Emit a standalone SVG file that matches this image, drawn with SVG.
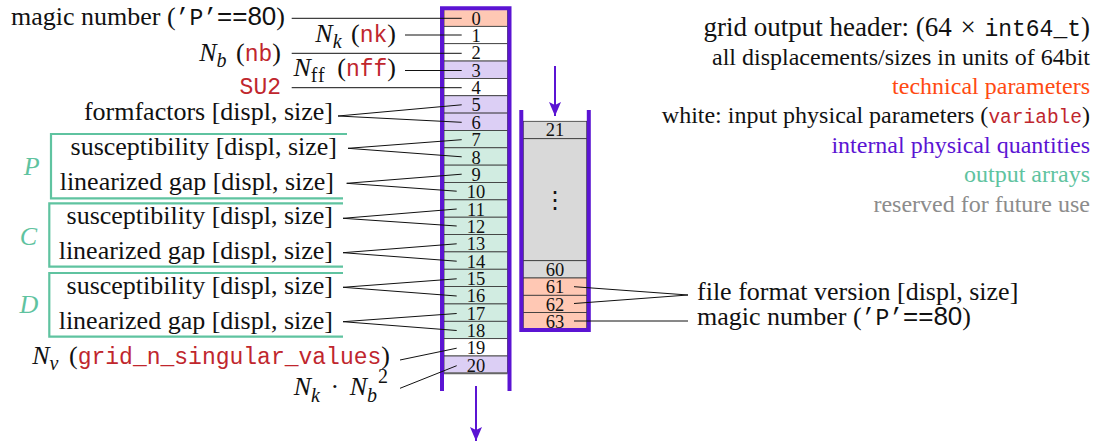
<svg xmlns="http://www.w3.org/2000/svg" width="1100" height="444" viewBox="0 0 1100 444">
<style>
text{font-family:"Liberation Serif",serif;fill:#111}
.lbl{font-size:26px}
.end{text-anchor:end}
.it{font-style:italic}
.sub{font-size:20px}
.mono{font-family:"Liberation Mono",monospace;font-size:23px;fill:#c0262d}
.tt{font-family:"Liberation Mono",monospace;font-size:23px;fill:#111}
.sans{font-family:"Liberation Sans",sans-serif}
.num{font-size:18.5px;text-anchor:middle}
.leg{font-size:24px;text-anchor:end}
.cell{stroke:#333;stroke-width:0.8}
.fo{fill:#ffc8b4}.fw{fill:#fff}.fp{fill:#dccff5}.fg{fill:#d1ece1}.fgr{fill:#d9d9d9}
.con{stroke:#111;stroke-width:1;fill:none}
.box{stroke:#5fc3a0;stroke-width:2.2;fill:none}
.wall{stroke:#5b14d3;stroke-width:4;fill:none}
.grp{fill:#5fc3a0;font-style:italic;font-size:26px;text-anchor:middle}
</style>
<defs>
<marker id="ah" viewBox="0 0 14 12" refX="14" refY="6" markerWidth="14" markerHeight="12" markerUnits="userSpaceOnUse" orient="auto">
<path d="M0,0 L14,6 L0,12 L3,6 z" fill="#5b14d3"/>
</marker>
</defs>

<!-- left column cells -->
<g id="cell-0"><rect class="cell fo" x="444" y="9" width="63.5" height="17.35"/><text class="num" x="476" y="24.7">0</text></g>
<g id="cell-1"><rect class="cell fw" x="444" y="26.35" width="63.5" height="17.35"/><text class="num" x="476" y="42.05">1</text></g>
<g id="cell-2"><rect class="cell fw" x="444" y="43.7" width="63.5" height="17.35"/><text class="num" x="476" y="59.4">2</text></g>
<g id="cell-3"><rect class="cell fp" x="444" y="61.05" width="63.5" height="17.35"/><text class="num" x="476" y="76.75">3</text></g>
<g id="cell-4"><rect class="cell fw" x="444" y="78.4" width="63.5" height="17.35"/><text class="num" x="476" y="94.1">4</text></g>
<g id="cell-5"><rect class="cell fp" x="444" y="95.75" width="63.5" height="17.35"/><text class="num" x="476" y="111.45">5</text></g>
<g id="cell-6"><rect class="cell fp" x="444" y="113.1" width="63.5" height="17.35"/><text class="num" x="476" y="128.8">6</text></g>
<g id="cell-7"><rect class="cell fg" x="444" y="130.45" width="63.5" height="17.35"/><text class="num" x="476" y="146.15">7</text></g>
<g id="cell-8"><rect class="cell fg" x="444" y="147.8" width="63.5" height="17.35"/><text class="num" x="476" y="163.5">8</text></g>
<g id="cell-9"><rect class="cell fg" x="444" y="165.15" width="63.5" height="17.35"/><text class="num" x="476" y="180.85">9</text></g>
<g id="cell-10"><rect class="cell fg" x="444" y="182.5" width="63.5" height="17.35"/><text class="num" x="476" y="198.2">10</text></g>
<g id="cell-11"><rect class="cell fg" x="444" y="199.85" width="63.5" height="17.35"/><text class="num" x="476" y="215.55">11</text></g>
<g id="cell-12"><rect class="cell fg" x="444" y="217.2" width="63.5" height="17.35"/><text class="num" x="476" y="232.9">12</text></g>
<g id="cell-13"><rect class="cell fg" x="444" y="234.55" width="63.5" height="17.35"/><text class="num" x="476" y="250.25">13</text></g>
<g id="cell-14"><rect class="cell fg" x="444" y="251.9" width="63.5" height="17.35"/><text class="num" x="476" y="267.6">14</text></g>
<g id="cell-15"><rect class="cell fg" x="444" y="269.25" width="63.5" height="17.35"/><text class="num" x="476" y="284.95">15</text></g>
<g id="cell-16"><rect class="cell fg" x="444" y="286.6" width="63.5" height="17.35"/><text class="num" x="476" y="302.3">16</text></g>
<g id="cell-17"><rect class="cell fg" x="444" y="303.95" width="63.5" height="17.35"/><text class="num" x="476" y="319.65">17</text></g>
<g id="cell-18"><rect class="cell fg" x="444" y="321.3" width="63.5" height="17.35"/><text class="num" x="476" y="337">18</text></g>
<g id="cell-19"><rect class="cell fw" x="444" y="338.65" width="63.5" height="17.35"/><text class="num" x="476" y="354.35">19</text></g>
<g id="cell-20"><rect class="cell fp" x="444" y="356" width="63.5" height="17.35"/><line x1="444" y1="373.35" x2="507.5" y2="373.35" stroke="#666" stroke-width="2"/><text class="num" x="476" y="371.7">20</text></g>
<g id="left-wall"><path class="wall" d="M442,391 V8.3 H509.5 V391"/></g>

<!-- right column cells -->
<g id="cell-21"><rect class="cell fgr" x="523.3" y="121.3" width="63.4" height="17.4"/><text class="num" x="555" y="136.3">21</text></g>
<g id="cell-gap"><rect class="cell fgr" x="523.3" y="138.7" width="63.4" height="122"/><text x="555" y="208" font-family="DejaVu Sans,sans-serif" font-size="24" text-anchor="middle">⋮</text></g>
<g id="cell-60"><rect class="cell fgr" x="523.3" y="260.7" width="63.4" height="17.3"/><text class="num" x="555" y="275.5">60</text></g>
<g id="cell-61"><rect class="cell fo" x="523.3" y="278" width="63.4" height="17.3"/><text class="num" x="555" y="293.3">61</text></g>
<g id="cell-62"><rect class="cell fo" x="523.3" y="295.3" width="63.4" height="17.3"/><text class="num" x="555" y="310.6">62</text></g>
<g id="cell-63"><rect class="cell fo" x="523.3" y="312.6" width="63.4" height="17.4"/><text class="num" x="555" y="327.9">63</text></g>
<g id="right-wall"><path class="wall" d="M521.3,110 V330 H588.8 V110"/></g>

<!-- group boxes -->
<g id="group-P"><path class="box" d="M347,134 H51 V198.3 H343"/><text class="grp" x="31.7" y="175">P</text></g>
<g id="group-C"><path class="box" d="M343,203.3 H49.3 V266.7 H343"/><text class="grp" x="28.3" y="245">C</text></g>
<g id="group-D"><path class="box" d="M343,273 H49.3 V336.7 H343"/><text class="grp" x="29" y="313.3">D</text></g>

<!-- left labels -->
<g id="lbl-magic"><text class="lbl end" x="285" y="25">magic number (<tspan class="tt">’P’</tspan><tspan class="sans">==80</tspan>)</text></g>
<g id="lbl-nk"><text class="lbl end" x="396" y="41.7"><tspan class="it">N</tspan><tspan class="it sub" dy="6">k</tspan><tspan dy="-6" dx="3"> (</tspan><tspan class="mono">nk</tspan>)</text></g>
<g id="lbl-nb"><text class="lbl end" x="281" y="61"><tspan class="it">N</tspan><tspan class="it sub" dy="6">b</tspan><tspan dy="-6" dx="3"> (</tspan><tspan class="mono">nb</tspan>)</text></g>
<g id="lbl-nff"><text class="lbl end" x="396" y="76"><tspan class="it">N</tspan><tspan class="sub" dy="6" letter-spacing="1">ff</tspan><tspan dy="-6" dx="5"> (</tspan><tspan class="mono">nff</tspan>)</text></g>
<g id="lbl-su2"><text class="mono end" x="281" y="94">SU2</text></g>
<g id="lbl-ff"><text class="lbl end" x="333" y="119.5">formfactors [displ, size]</text></g>
<g id="lbl-p-sus"><text class="lbl end" x="337" y="154.5">susceptibility [displ, size]</text></g>
<g id="lbl-p-gap"><text class="lbl end" x="334" y="189.5">linearized gap [displ, size]</text></g>
<g id="lbl-c-sus"><text class="lbl end" x="333" y="223.5">susceptibility [displ, size]</text></g>
<g id="lbl-c-gap"><text class="lbl end" x="333" y="259">linearized gap [displ, size]</text></g>
<g id="lbl-d-sus"><text class="lbl end" x="333" y="294">susceptibility [displ, size]</text></g>
<g id="lbl-d-gap"><text class="lbl end" x="333" y="329">linearized gap [displ, size]</text></g>
<g id="lbl-nv"><text class="lbl end" x="390" y="364"><tspan class="it">N</tspan><tspan class="it sub" dy="6">v</tspan><tspan dy="-6" dx="4"> (</tspan><tspan class="mono">grid_n_singular_values</tspan>)</text></g>
<g id="lbl-nknb2"><text class="lbl end" x="388" y="395"><tspan class="it">N</tspan><tspan class="it sub" dy="7">k</tspan><tspan dy="-7" dx="4"> · </tspan><tspan class="it" dx="4">N</tspan><tspan class="it sub" dy="7">b</tspan><tspan class="sub" dy="-19" dx="1">2</tspan></text></g>

<!-- right labels -->
<g id="lbl-version"><text class="lbl" x="697" y="300">file format version [displ, size]</text></g>
<g id="lbl-magic2"><text class="lbl" x="697" y="325">magic number (<tspan class="tt">’P’</tspan><tspan class="sans">==80</tspan>)</text></g>

<!-- legend -->
<g id="legend">
<text class="leg" x="1090" y="36" style="font-size:27px">grid output header: (64 <tspan dx="2">×</tspan><tspan dx="2"> </tspan><tspan class="tt">int64_t</tspan>)</text>
<text class="leg" x="1090" y="65">all displacements/sizes in units of 64bit</text>
<text class="leg" x="1090" y="94" style="fill:#ff4a12">technical parameters</text>
<text class="leg" x="1090" y="123">white: input physical parameters (<tspan class="mono" style="font-size:19.5px">variable</tspan>)</text>
<text class="leg" x="1090" y="153" style="fill:#5b14d3">internal physical quantities</text>
<text class="leg" x="1090" y="182" style="fill:#5fc3a0">output arrays</text>
<text class="leg" x="1090" y="212" style="fill:#8c8c8c">reserved for future use</text>
</g>

<!-- connectors -->
<g id="connectors">
<line class="con" x1="291.7" y1="18.3" x2="461.7" y2="18.3"/>
<line class="con" x1="405" y1="35" x2="461.7" y2="35"/>
<line class="con" x1="291.7" y1="53.3" x2="461.7" y2="53.3"/>
<line class="con" x1="405" y1="70.5" x2="461.7" y2="70.5"/>
<line class="con" x1="291.7" y1="87.7" x2="461.7" y2="87.7"/>
<polyline class="con" points="461.7,104.8 338,116 461.7,122.3"/>
<polyline class="con" points="461.7,139.7 348,148.3 461.7,156.8"/>
<polyline class="con" points="461.7,174.2 346.7,183.3 456.7,191.2"/>
<polyline class="con" points="456.7,209 343,218.3 456.7,226"/>
<polyline class="con" points="456.7,243.8 343,252.7 456.7,261.2"/>
<polyline class="con" points="456.7,278.8 343,287.3 456.7,296"/>
<polyline class="con" points="456.7,313.5 343,321.7 456.7,330.5"/>
<line class="con" x1="400" y1="360" x2="456.7" y2="348.2"/>
<line class="con" x1="400" y1="388.3" x2="456.7" y2="365.7"/>
<polyline class="con" points="574,286.7 688,295 574,303.5"/>
<line class="con" x1="574" y1="321" x2="688" y2="321"/>
<line x1="555" y1="66" x2="555" y2="116" stroke="#5b14d3" stroke-width="2" marker-end="url(#ah)"/>
<line x1="476" y1="386" x2="476" y2="441" stroke="#5b14d3" stroke-width="2" marker-end="url(#ah)"/>
</g>
</svg>
